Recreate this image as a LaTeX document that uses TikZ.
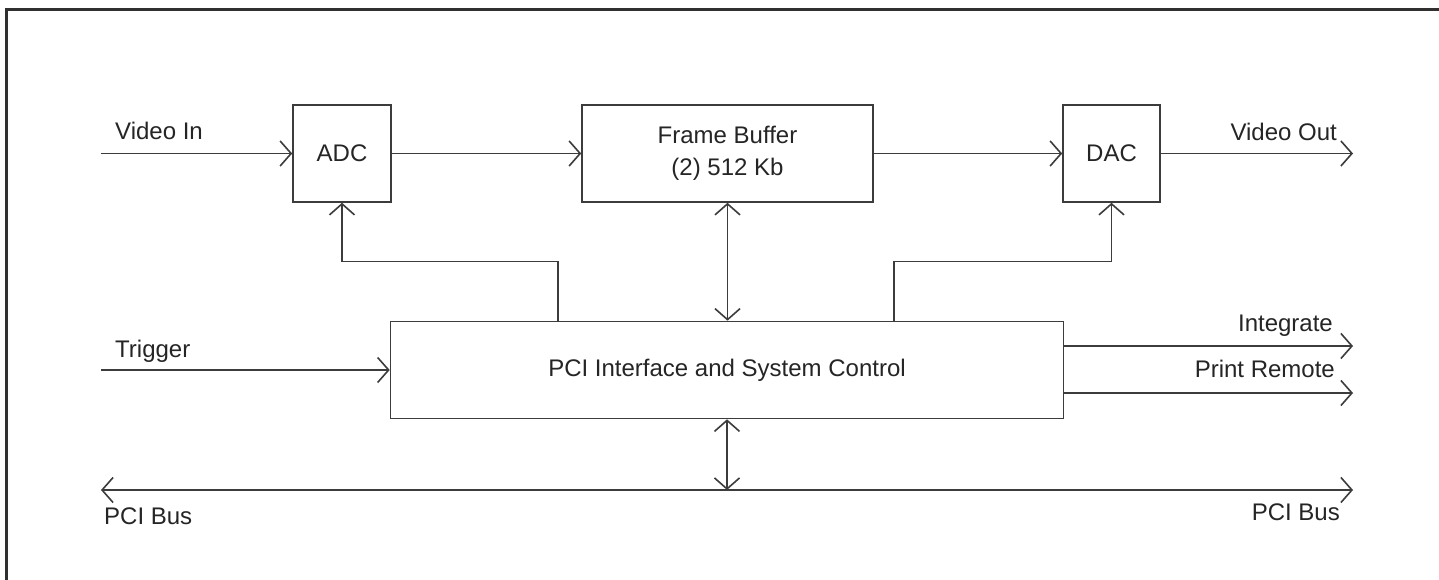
\documentclass[tikz,border=0pt]{standalone}
\usepackage{fontspec}
\setmainfont{Liberation Sans}
\usetikzlibrary{arrows.meta,calc}
\definecolor{ln}{HTML}{3C3C3C}
\definecolor{tx}{HTML}{252525}
\begin{document}
\begin{tikzpicture}[x=1pt,y=-1pt,
  box/.style={draw=ln, line width=1.6pt, inner sep=0pt, text=tx, font=\fontsize{24}{32}\selectfont, align=center},
  conn/.style={draw=ln, line width=1.6pt},
  barb/.tip={Straight Barb[length=11pt,width=25pt,line width=1.6pt]},
  arr/.style={conn, -barb},
  darr/.style={conn, barb-barb},
  lbl/.style={text=tx, font=\fontsize{24}{28}\selectfont, inner sep=0pt}]
\useasboundingbox (0,0) rectangle (1439,580);
\fill[white] (0,0) rectangle (1439,580);
% frame
\draw[draw=ln!80!black, line width=3pt] (6.5,580) |- (1439,9.5);
% boxes
\node[box, minimum width=98pt, minimum height=97pt] (adc) at (342,153.5) {ADC};
\node[box, minimum width=291pt, minimum height=97pt] (fb) at (727.5,153.5) {Frame Buffer\\(2) 512 Kb};
\node[box, minimum width=97pt, minimum height=97pt] (dac) at (1111.5,153.5) {DAC};
\node[box, minimum width=673pt, minimum height=97pt] (pci) at (727,370) {PCI Interface and System Control};
% free ends
\coordinate (vin) at (101,153.5);
\coordinate (vout) at (1353,153.5);
\coordinate (trig) at (101,370);
\coordinate (integ) at (1353,346);
\coordinate (prem) at (1353,393);
\coordinate (busL) at (101,490);
\coordinate (busR) at (1353,490);
% connectors
\draw[arr] (vin) -- (adc.west);
\draw[arr] (adc.east) -- (fb.west);
\draw[arr] (fb.east) -- (dac.west);
\draw[arr] (dac.east) -- (vout);
\draw[arr] ($(pci.north west)+(168.5,0)$) |- ($(adc.south)+(0,58.5)$) -- (adc.south);
\draw[arr] ($(pci.north west)+(504.5,0)$) |- ($(dac.south)+(0,58.5)$) -- (dac.south);
\draw[darr] (fb.south) -- (fb.south |- pci.north);
\draw[arr] (trig) -- (pci.west);
\draw[arr] (pci.east |- integ) -- (integ);
\draw[arr] (pci.east |- prem) -- (prem);
\draw[darr] (busL) -- (busR);
\draw[darr] (pci.south) -- (pci.south |- busL);
% labels
\node[lbl, anchor=base west] (lvin) at (115,140) {Video In};
\node[lbl, anchor=base east] (lvout) at (1337,141) {Video Out};
\node[lbl, anchor=base west] (ltrig) at (115,357) {Trigger};
\node[lbl, anchor=base east] (linteg) at (1333,331) {Integrate};
\node[lbl, anchor=base east] (lprem) at (1335,377) {Print Remote};
\node[lbl, anchor=base west] (lbusL) at (104,524) {PCI Bus};
\node[lbl, anchor=base east] (lbusR) at (1340,520) {PCI Bus};
\end{tikzpicture}
\end{document}
